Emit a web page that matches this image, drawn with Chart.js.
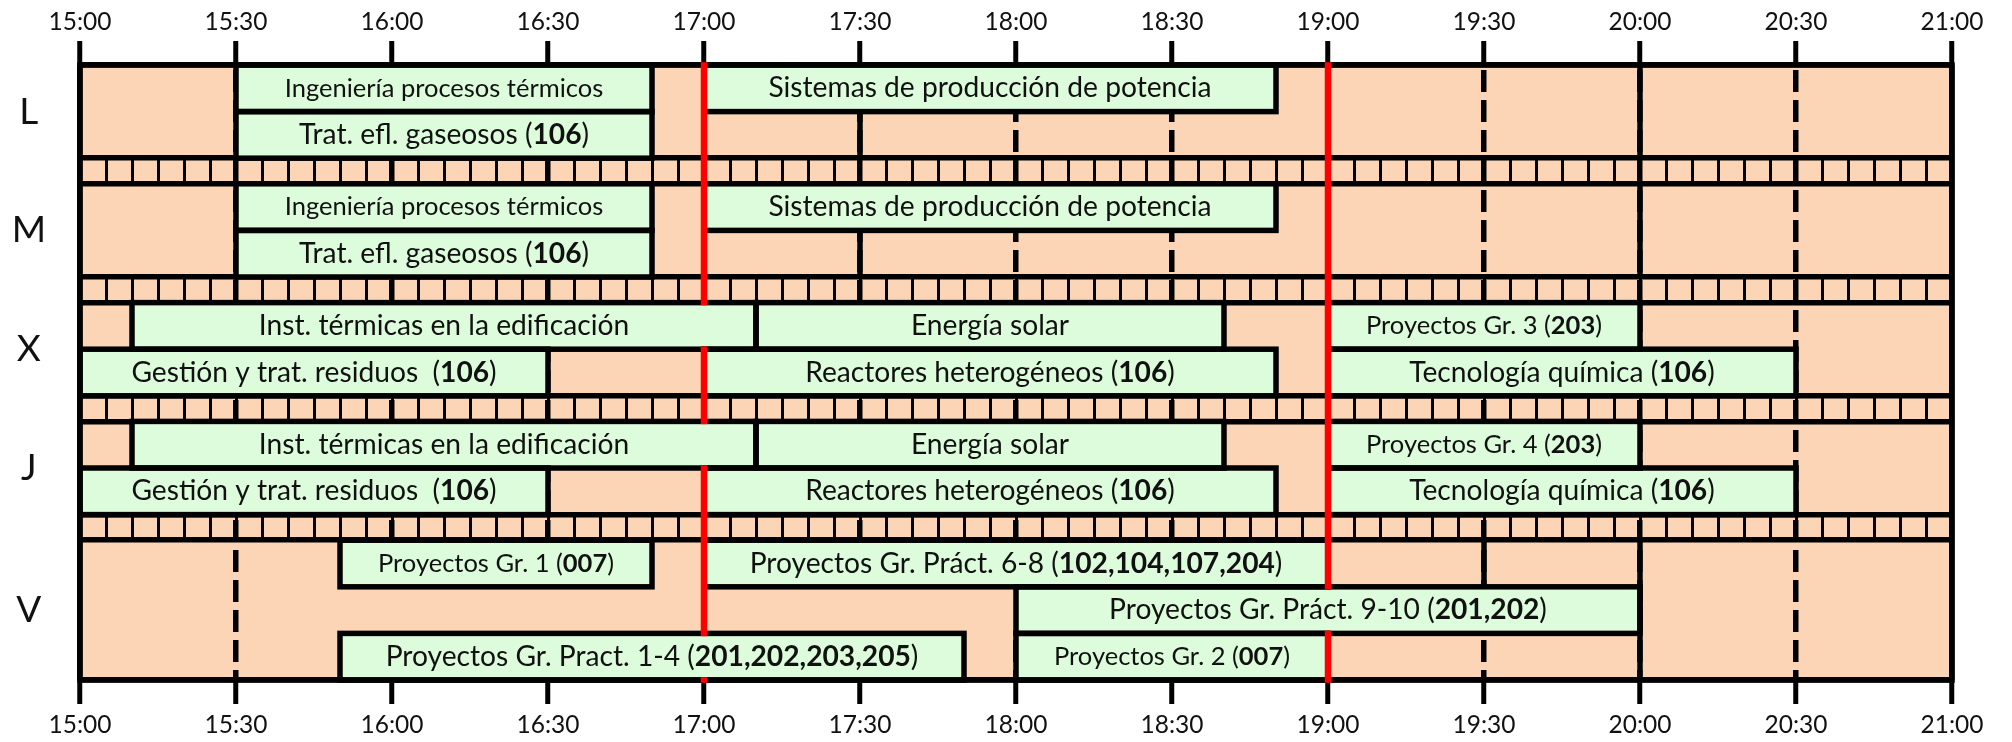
<!DOCTYPE html>
<html>
<head>
<meta charset="utf-8">
<title>Horario</title>
<script src="https://cdn.jsdelivr.net/npm/chart.js@4.4.1/dist/chart.umd.min.js"></script>
<style>
  html, body { margin: 0; padding: 0; background: #fff; }
  #wrap { width: 2012px; height: 742px; }
</style>
</head>
<body>
<div id="wrap"><canvas id="chart" width="2012" height="742"></canvas></div>
<script>
// ---------- Data ----------
const days = ['L', 'M', 'X', 'J', 'V'];
const dayLanes = [2, 2, 2, 2, 3];

const timeTicks = ['15:00', '15:30', '16:00', '16:30', '17:00', '17:30', '18:00',
                   '18:30', '19:00', '19:30', '20:00', '20:30', '21:00'];

const courseDay = ['L', 'L', 'L',
                   'M', 'M', 'M',
                   'X', 'X', 'X', 'X', 'X', 'X',
                   'J', 'J', 'J', 'J', 'J', 'J',
                   'V', 'V', 'V', 'V', 'V'];
const courseLane = [0, 0, 1,
                    0, 0, 1,
                    0, 0, 0, 1, 1, 1,
                    0, 0, 0, 1, 1, 1,
                    0, 0, 1, 2, 2];
const courseStart = ['15:30', '17:00', '15:30',
                     '15:30', '17:00', '15:30',
                     '15:10', '17:10', '19:00', '15:00', '17:00', '19:00',
                     '15:10', '17:10', '19:00', '15:00', '17:00', '19:00',
                     '15:50', '17:00', '18:00', '15:50', '18:00'];
const courseEnd = ['16:50', '18:50', '16:50',
                   '16:50', '18:50', '16:50',
                   '17:10', '18:40', '20:00', '16:30', '18:50', '20:30',
                   '17:10', '18:40', '20:00', '16:30', '18:50', '20:30',
                   '16:50', '19:00', '20:00', '17:50', '19:00'];
const courseName = [
  'Ingeniería procesos térmicos', 'Sistemas de producción de potencia', 'Trat. efl. gaseosos',
  'Ingeniería procesos térmicos', 'Sistemas de producción de potencia', 'Trat. efl. gaseosos',
  'Inst. térmicas en la edificación', 'Energía solar', 'Proyectos Gr. 3',
  'Gestión y trat. residuos ', 'Reactores heterogéneos', 'Tecnología química',
  'Inst. térmicas en la edificación', 'Energía solar', 'Proyectos Gr. 4',
  'Gestión y trat. residuos ', 'Reactores heterogéneos', 'Tecnología química',
  'Proyectos Gr. 1', 'Proyectos Gr. Práct. 6-8', 'Proyectos Gr. Práct. 9-10',
  'Proyectos Gr. Pract. 1-4', 'Proyectos Gr. 2'
];
const courseRoom = ['', '', '106',
                    '', '', '106',
                    '', '', '203', '106', '106', '106',
                    '', '', '203', '106', '106', '106',
                    '007', '102,104,107,204', '201,202', '201,202,203,205', '007'];

// boundaries between free slots (solid separators)
const breakDay = ['L', 'L', 'M', 'M', 'V', 'V'];
const breakTime = ['17:30', '20:00', '17:30', '20:00', '19:30', '20:00'];
const breakFirstLane = [1, 0, 1, 0, 0, 0];
const breakLastLane = [1, 1, 1, 1, 0, 2];

// free slot without guide lines
const blankDay = ['V'];
const blankLane = [1];
const blankStart = ['15:50'];
const blankEnd = ['18:00'];

// red marks
const markTimes = ['17:00', '19:00'];

// ---------- Style ----------
const PEACH = '#fbd5b5';
const GREEN = '#ddfcdc';
const RED = '#ff0000';
const INK = '#111111';
const LINE = 5.5;              // box outlines and rules
const GRID = 5.5;              // guide lines
const RED_W = 6.5;
const STRIP = 0.55;            // separator strip height, in lane units
const MINOR_STEP = 5 / 60;     // small marks in separator strips
const FONT = 'Lato, "Noto Sans", sans-serif';
const BIG = 28.2;
const SMALL = 25.5;
const SMALL_LABELS = new Set(['Ingeniería procesos térmicos', 'Proyectos Gr. 1', 'Proyectos Gr. 2',
                              'Proyectos Gr. 3', 'Proyectos Gr. 4']);

// ---------- Helpers ----------
function toHours(s) {
  const [h, m] = s.split(':').map(Number);
  return h + m / 60;
}

const dayTop = [];
let acc = 0;
days.forEach((d, i) => {
  dayTop.push(acc);
  acc += dayLanes[i] + (i < days.length - 1 ? STRIP : 0);
});
const Y_MAX = acc;

function laneTop(day, lane) {
  return dayTop[days.indexOf(day)] + lane;
}

const ruleValues = [0, Y_MAX];
days.forEach((d, i) => {
  if (i < days.length - 1) ruleValues.push(dayTop[i] + dayLanes[i], dayTop[i + 1]);
});

const courseData = courseName.map((n, i) => ({
  x: [toHours(courseStart[i]), toHours(courseEnd[i])],
  y: laneTop(courseDay[i], courseLane[i]) + 0.5
}));
const blankData = blankDay.map((d, i) => ({
  x: [toHours(blankStart[i]), toHours(blankEnd[i])],
  y: laneTop(d, blankLane[i]) + 0.5
}));

function drawLabel(ctx, cx, cy, name, room, size) {
  const normal = `${size}px ${FONT}`;
  const bold = `bold ${size}px ${FONT}`;
  const parts = room ? [[name + ' (', normal], [room, bold], [')', normal]] : [[name, normal]];
  let total = 0;
  parts.forEach(p => {
    ctx.font = p[1];
    p.push(ctx.measureText(p[0]).width);
    total += p[2];
  });
  let x = cx - total / 2;
  ctx.textAlign = 'left';
  ctx.textBaseline = 'middle';
  ctx.fillStyle = INK;
  parts.forEach(p => {
    ctx.font = p[1];
    ctx.fillText(p[0], x, cy);
    x += p[2];
  });
}

// ---------- Plugins ----------
const timetable = {
  id: 'timetable',
  beforeDraw(chart) {
    const { ctx, chartArea: a } = chart;
    ctx.save();
    ctx.fillStyle = PEACH;
    ctx.fillRect(a.left, a.top, a.right - a.left, a.bottom - a.top);
    ctx.restore();
  },
  beforeDatasetsDraw(chart) {
    const { ctx, scales } = chart;
    const xs = scales.x, ys = scales.y;
    ctx.save();
    ctx.strokeStyle = '#000';
    ctx.lineWidth = 3;
    days.forEach((d, i) => {
      if (i === days.length - 1) return;
      const y0 = ys.getPixelForValue(dayTop[i] + dayLanes[i]);
      const y1 = ys.getPixelForValue(dayTop[i + 1]);
      for (let t = xs.min + MINOR_STEP; t < xs.max - 1e-6; t += MINOR_STEP) {
        const px = Math.round(xs.getPixelForValue(t)) + 0.5;
        ctx.beginPath();
        ctx.moveTo(px, y0);
        ctx.lineTo(px, y1);
        ctx.stroke();
      }
    });
    ctx.restore();
  },
  afterDatasetsDraw(chart) {
    const { ctx, scales, chartArea: a } = chart;
    const xs = scales.x, ys = scales.y;
    const bars = chart.getDatasetMeta(1).data;
    ctx.save();

    // separators between free slots
    ctx.strokeStyle = '#000';
    ctx.lineWidth = LINE;
    breakDay.forEach((d, i) => {
      const px = xs.getPixelForValue(toHours(breakTime[i]));
      ctx.beginPath();
      ctx.moveTo(px, ys.getPixelForValue(laneTop(d, breakFirstLane[i])));
      ctx.lineTo(px, ys.getPixelForValue(laneTop(d, breakLastLane[i]) + 1));
      ctx.stroke();
    });

    // outlines of the course boxes
    bars.forEach(el => {
      const { x, y, base, height } = el.getProps(['x', 'y', 'base', 'height'], true);
      ctx.strokeRect(Math.min(x, base), y - height / 2, Math.abs(x - base), height);
    });
    ctx.strokeRect(a.left, a.top, a.right - a.left, a.bottom - a.top);

    // red marks, hidden inside courses that run across them
    ctx.strokeStyle = RED;
    ctx.lineWidth = RED_W;
    markTimes.forEach(m => {
      const t = toHours(m);
      const px = xs.getPixelForValue(t);
      const gaps = [];
      courseData.forEach((c, i) => {
        if (c.x[0] < t && c.x[1] > t) {
          const el = bars[i];
          gaps.push([el.y - el.height / 2 + LINE / 2, el.y + el.height / 2 - LINE / 2]);
        }
      });
      gaps.sort((p, q) => p[0] - q[0]);
      let from = a.top - LINE / 2;
      const segs = [];
      gaps.forEach(g => { segs.push([from, g[0]]); from = g[1]; });
      segs.push([from, a.bottom + LINE / 2]);
      segs.forEach(s => {
        ctx.beginPath();
        ctx.moveTo(px, s[0]);
        ctx.lineTo(px, s[1]);
        ctx.stroke();
      });
    });

    // labels
    bars.forEach((el, i) => {
      const size = SMALL_LABELS.has(courseName[i]) ? SMALL : BIG;
      drawLabel(ctx, (el.x + el.base) / 2, el.y, courseName[i], courseRoom[i], size);
    });
    ctx.restore();
  }
};

// ---------- Chart ----------
function timeAxis(position, onArea, height, padding) {
  return {
    type: 'linear',
    position,
    offset: false,
    min: toHours(timeTicks[0]),
    max: toHours(timeTicks[timeTicks.length - 1]),
    afterBuildTicks: s => { s.ticks = timeTicks.map(t => ({ value: toHours(t) })); },
    afterFit: s => { s.height = height; },
    ticks: {
      autoSkip: false,
      maxRotation: 0,
      padding,
      color: INK,
      font: { family: FONT, size: 24.5 },
      callback: (v, i) => timeTicks[i]
    },
    grid: {
      offset: false,
      drawOnChartArea: onArea,
      color: '#000',
      lineWidth: GRID,
      tickLength: 24,
      tickWidth: 5,
      tickColor: '#000'
    },
    border: {
      display: false,
      dash: c => (c.index === 0 || c.index === timeTicks.length - 1) ? [] : [22, 8],
      dashOffset: -5
    }
  };
}

new Chart(document.getElementById('chart'), {
  type: 'bar',
  data: {
    datasets: [
      {
        label: 'libre',
        data: blankData,
        xAxisID: 'x', yAxisID: 'y',
        backgroundColor: PEACH,
        borderWidth: 0,
        grouped: false,
        barPercentage: 1,
        categoryPercentage: 1
      },
      {
        label: 'asignaturas',
        data: courseData,
        xAxisID: 'x', yAxisID: 'y',
        backgroundColor: GREEN,
        borderWidth: 0,
        grouped: false,
        barPercentage: 1,
        categoryPercentage: 1
      }
    ]
  },
  options: {
    indexAxis: 'y',
    responsive: false,
    animation: false,
    layout: { padding: { left: 0, right: 60, top: 0, bottom: 0 } },
    plugins: { legend: { display: false }, tooltip: { enabled: false } },
    scales: {
      x: timeAxis('bottom', true, 62, 6),
      xTop: timeAxis('top', false, 65, 4),
      y: {
        type: 'linear',
        position: 'left',
        reverse: true,
        offset: false,
        min: 0,
        max: Y_MAX,
        afterBuildTicks: s => { s.ticks = days.map((d, i) => ({ value: dayTop[i] + dayLanes[i] / 2 })); },
        afterFit: s => { s.width = 80; },
        ticks: {
          autoSkip: false,
          crossAlign: 'center',
          padding: 34,
          color: INK,
          font: { family: FONT, size: 37 },
          callback: (v, i) => days[i]
        },
        grid: { display: false, drawTicks: false, offset: false },
        border: { display: false }
      },
      yLines: {
        type: 'linear',
        position: 'left',
        reverse: true,
        offset: false,
        min: 0,
        max: Y_MAX,
        afterBuildTicks: s => { s.ticks = ruleValues.map(v => ({ value: v })); },
        afterFit: s => { s.width = 0; },
        ticks: { display: false },
        grid: { color: '#000', lineWidth: LINE, drawTicks: false, offset: false },
        border: { display: false }
      }
    }
  },
  plugins: [timetable]
});
</script>
</body>
</html>
